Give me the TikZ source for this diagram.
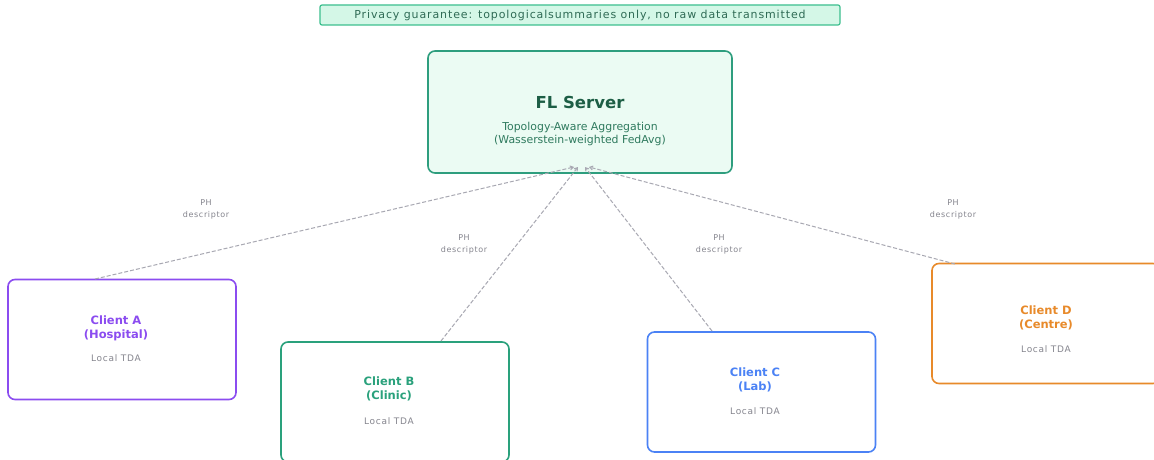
\documentclass[tikz,border=0pt]{standalone}
\usepackage{fontspec}
\setmainfont{DejaVu Sans}
\newfontfamily\spacedfont[LetterSpace=8]{DejaVu Sans}
\newfontfamily\bannerfont[LetterSpace=8]{DejaVu Sans}
\usetikzlibrary{arrows.meta}
\definecolor{bannerfill}{HTML}{D4F7E7}
\definecolor{bannerline}{HTML}{3CBF8E}
\definecolor{bannertext}{HTML}{2F6B55}
\definecolor{srvfill}{HTML}{EBFBF3}
\definecolor{srvline}{HTML}{2E9E7E}
\definecolor{srvtitle}{HTML}{1D5E45}
\definecolor{srvsub}{HTML}{2F7A5E}
\definecolor{cA}{HTML}{8B4CF0}
\definecolor{cB}{HTML}{2AA17C}
\definecolor{cC}{HTML}{4B82F5}
\definecolor{cD}{HTML}{E88A2A}
\definecolor{muted}{HTML}{85858E}
\definecolor{link}{HTML}{A8A8B2}
\tikzset{
  clientbox/.style={draw=#1, line width=1.6pt, rounded corners=7pt, fill=white,
    minimum width=228pt, minimum height=120pt, inner sep=0pt},
  ctitle/.style={text=#1, font=\fontsize{11.5}{14}\selectfont\bfseries, align=center},
  local/.style={text=muted, font=\spacedfont\fontsize{9}{11}\selectfont},
  phlabel/.style={text=muted, font=\spacedfont\fontsize{8}{12}\selectfont, align=center},
  uplink/.style={draw=link, line width=1pt, dashed, dash pattern=on 4pt off 2pt,
    -{Straight Barb[length=3pt,width=4pt]}}
}
\begin{document}
\begin{tikzpicture}[x=1pt,y=-1pt]
\useasboundingbox (0,0) rectangle (1154,460);
\fill[white] (0,0) rectangle (1154,460);

% privacy banner
\node[draw=bannerline, fill=bannerfill, line width=1.2pt, rounded corners=2pt,
  minimum width=520pt, minimum height=20pt, inner sep=0pt,
  text=bannertext, font=\bannerfont\fontsize{11}{12}\selectfont] (banner) at (580,15)
  {Privacy guarantee: topologicalsummaries only, no raw data transmitted};

% aggregation server
\node[draw=srvline, fill=srvfill, line width=1.6pt, rounded corners=7pt,
  minimum width=304pt, minimum height=122pt, inner sep=0pt] (srv) at (580,112) {};
\node[text=srvtitle, font=\fontsize{16.5}{18}\selectfont\bfseries] (srvtitle) at (580,102) {FL Server};
\node[text=srvsub, font=\fontsize{10.9}{13}\selectfont, align=center] (srvsub) at (580,134)
  {Topology-Aware Aggregation\\(Wasserstein-weighted FedAvg)};

% clients
\node[clientbox=cA] (ca) at (122,339.5) {};
\node[ctitle=cA] (cat) at (116,328) {Client A\\(Hospital)};
\node[local] (cal) at (116,358) {Local TDA};

\node[clientbox=cB] (cb) at (395,402) {};
\node[ctitle=cB] (cbt) at (389,389) {Client B\\(Clinic)};
\node[local] (cbl) at (389,421) {Local TDA};

\node[clientbox=cC] (cc) at (761.5,392) {};
\node[ctitle=cC] (cct) at (755,380) {Client C\\(Lab)};
\node[local] (ccl) at (755,411) {Local TDA};

\node[clientbox=cD] (cd) at (1046,323.5) {};
\node[ctitle=cD] (cdt) at (1046,318) {Client D\\(Centre)};
\node[local] (cdl) at (1046,349) {Local TDA};

% connector end points on client tops and server base
\coordinate (outA) at (95,279);
\coordinate (outB) at (441,341);
\coordinate (outC) at (712,331);
\coordinate (outD) at (955,264);
\coordinate (inA) at (574,167);
\coordinate (inB) at (578,167);
\coordinate (inC) at (585,167);
\coordinate (inD) at (589,167);

\draw[uplink] (outA) -- (inA);
\draw[uplink] (outB) -- (inB);
\draw[uplink] (outC) -- (inC);
\draw[uplink] (outD) -- (inD);

% descriptor labels
\node[phlabel] (phA) at (206,209) {PH\\descriptor};
\node[phlabel] (phB) at (464,244) {PH\\descriptor};
\node[phlabel] (phC) at (719,244) {PH\\descriptor};
\node[phlabel] (phD) at (953,209) {PH\\descriptor};
\end{tikzpicture}
\end{document}
